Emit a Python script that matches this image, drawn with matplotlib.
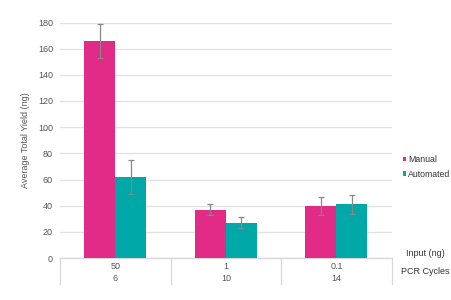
import numpy as np
import matplotlib
matplotlib.use("Agg")
import matplotlib.pyplot as plt
import matplotlib.transforms as mtransforms

plt.rcParams['font.family'] = ['Liberation Sans', 'DejaVu Sans']

inputs = ["50", "1", "0.1"]
cycles = ["6", "10", "14"]
manual = [166, 37, 39.5]
manual_err = [13, 4, 7]
automated = [62, 27, 41]
automated_err = [13, 4, 7]

pink = "#E22A87"
teal = "#00A8A8"
text_gray = "#555555"

fig = plt.figure(figsize=(4.52, 3.0), dpi=100)
ax = fig.add_axes([0.1327, 0.14, 0.734, 0.785])

x = np.arange(len(inputs))
w = 0.28
err_kw = dict(ecolor="#888888", elinewidth=0.9, capsize=2.5, capthick=0.9)
ax.bar(x - w / 2, manual, w, color=pink, yerr=manual_err, error_kw=err_kw, label="Manual", zorder=3)
ax.bar(x + w / 2, automated, w, color=teal, yerr=automated_err, error_kw=err_kw, label="Automated", zorder=3)

ax.set_xlim(-0.5, 2.5)
ax.set_ylim(0, 180)
ax.set_yticks(np.arange(0, 181, 20))
ax.tick_params(axis="y", length=0, labelsize=6.5, labelcolor=text_gray, pad=5)
ax.set_xticks([])
ax.grid(axis="y", color="#e2e2e2", linewidth=1.0, zorder=0)
for s in ["top", "right", "left"]:
    ax.spines[s].set_visible(False)
ax.spines["bottom"].set_color("#d8d8d8")
ax.spines["bottom"].set_linewidth(1.0)

ax.set_ylabel("Average Total Yield (ng)", fontsize=6.5, color=text_gray, labelpad=6)

# category table below axis
trans = mtransforms.blended_transform_factory(ax.transData, ax.transAxes)
for b in np.arange(-0.5, len(inputs), 1.0):
    ax.plot([b, b], [0, -0.11], transform=trans, color="#d8d8d8", lw=0.9, clip_on=False)
for i in range(len(inputs)):
    ax.text(x[i], -0.034, inputs[i], transform=trans, ha="center", va="center",
            fontsize=6.5, color=text_gray)
    ax.text(x[i], -0.089, cycles[i], transform=trans, ha="center", va="center",
            fontsize=6.5, color=text_gray)

fig.text(425 / 452, 1 - 254 / 300, "Input (ng)", ha="center", va="center", fontsize=6.5, color="#333333")
fig.text(425 / 452, 1 - 272 / 300, "PCR Cycles", ha="center", va="center", fontsize=6.5, color="#333333")

ax.legend(loc="center left", bbox_to_anchor=(403 / 452, 1 - 167 / 300), bbox_transform=fig.transFigure,
          frameon=False, fontsize=6.3, handlelength=0.4, handleheight=0.4,
          handletextpad=0.2, labelspacing=0.6, borderpad=0, borderaxespad=0,
          labelcolor="#333333")

fig.savefig("out.png", dpi=100)
